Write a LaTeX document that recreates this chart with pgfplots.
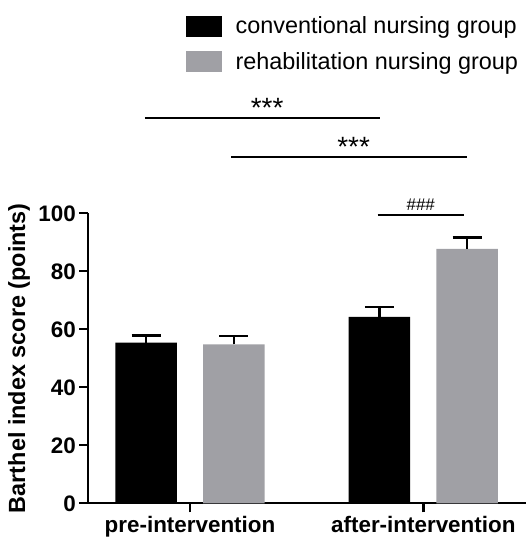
\documentclass[border=0pt]{standalone}
\usepackage{pgfplots}
\pgfplotsset{compat=1.18}
\usepackage{fontspec}
\setmainfont{Liberation Sans}
\definecolor{rehab}{RGB}{160,160,165}
\begin{document}
\begin{tikzpicture}
\begin{axis}[
  scale only axis, width=437.7bp, height=290bp,
  xmin=-0.436, xmax=1.44, ymin=0, ymax=100,
  axis lines*=left,
  axis line style={line width=2.4bp, black},
  ytick={0,20,...,100},
  xtick={0,1}, xticklabels={pre-intervention, after-intervention},
  tick style={line width=2.4bp, black}, major tick length=9bp, tick align=outside,
  ticklabel style={font=\fontsize{22.5}{24}\selectfont\bfseries},
  /pgf/number format/assume math mode=true,
  ylabel={Barthel index score (points)},
  ylabel style={font=\fontsize{23.5}{26}\selectfont\bfseries, at={(rel axis cs:-0.158,0.5)}, anchor=center},
  clip=false,
  legend cell align=left,
  legend style={draw=none, fill=none, at={(rel axis cs:0.2232,1.685)}, anchor=north west,
    font=\fontsize{23.5}{26}\selectfont, row sep=13bp, inner sep=0pt},
]
\addlegendimage{legend image code/.code={\fill[black] (0bp,-10bp) rectangle (35bp,10bp);}}
\addlegendentry{\hspace{12bp}conventional nursing group}
\addlegendimage{legend image code/.code={\fill[rehab] (0bp,-10bp) rectangle (35bp,10bp);}}
\addlegendentry{\hspace{12bp}rehabilitation nursing group}

\addplot[forget plot, ybar, bar shift=0pt, bar width=0.2636, fill=black, draw=none,
  error bars/.cd, y dir=plus, y explicit,
  error bar style={line width=2.4bp, black},
  error mark options={rotate=90, mark size=14.5bp, line width=2.4bp, black}]
  coordinates {(-0.188,55.4) +- (0,2.5) (0.812,64.3) +- (0,3.4)};
\addplot[forget plot, ybar, bar shift=0pt, bar width=0.2636, fill=rehab, draw=none,
  error bars/.cd, y dir=plus, y explicit,
  error bar style={line width=2.4bp, black},
  error mark options={rotate=90, mark size=14.5bp, line width=2.4bp, black}]
  coordinates {(0.188,54.8) +- (0,2.8) (1.188,87.7) +- (0,3.9)};

\draw[line width=2.4bp] (axis cs:-0.193,132.8) -- (axis cs:0.814,132.8)
  node[pos=0.52, above=-4bp, font=\fontsize{28}{28}\selectfont] {***};
\draw[line width=2.4bp] (axis cs:0.176,119.5) -- (axis cs:1.186,119.5)
  node[pos=0.52, above=-4bp, font=\fontsize{28}{28}\selectfont] {***};
\draw[line width=2.4bp] (axis cs:0.804,99.4) -- (axis cs:1.174,99.4)
  node[midway, above=0bp, font=\fontsize{17}{17}\selectfont] {\#\#\#};

\coordinate (bbsw) at (rel axis cs:-0.2017,-0.1266);
\coordinate (bbne) at (rel axis cs:1.0,1.7355);
\end{axis}
\pgfresetboundingbox
\path (bbsw) rectangle (bbne);
\end{tikzpicture}
\end{document}
